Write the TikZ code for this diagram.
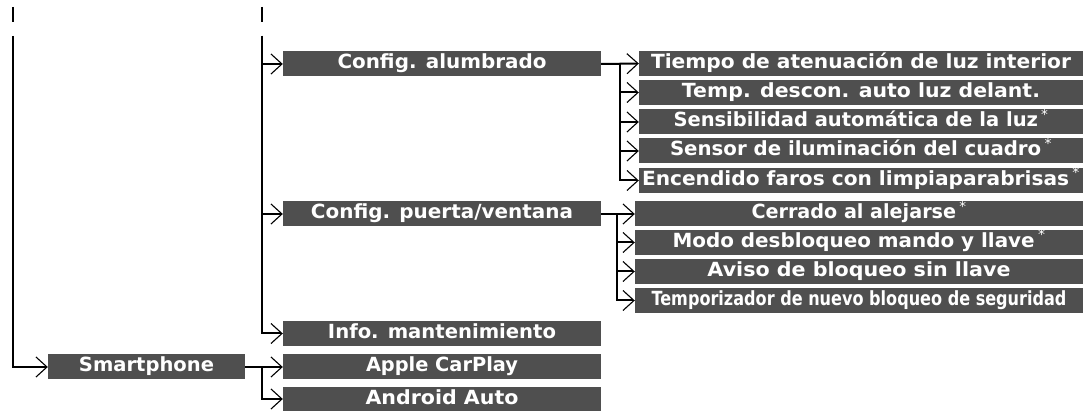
\documentclass[tikz,border=0pt]{standalone}
\usepackage{fontspec}
\setmainfont{DejaVu Sans}
\usetikzlibrary{arrows.meta}
\definecolor{boxgray}{HTML}{4F4F4F}
\tikzset{
  menubox/.style={fill=boxgray, text=white, font=\fontsize{19.5}{19.5}\selectfont\bfseries, inner sep=0pt, minimum height=25pt, text height=15pt, text depth=5pt, anchor=center},
  wide/.style={menubox, minimum width=318pt},
  sub/.style={menubox, minimum width=444pt},
  dsub/.style={menubox, minimum width=448pt},
  conn/.style={line width=2pt, -{Straight Barb[length=11pt,width=20pt,line width=1.1pt]}},
  plain/.style={line width=2pt}
}
\newcommand{\optmark}{\,\textsuperscript{\mdseries *}}
\newcommand{\lbl}[2]{\resizebox{#1pt}{\height}{#2}}
\begin{document}
\begin{tikzpicture}[x=1pt,y=-1pt]
\useasboundingbox (0,0) rectangle (1084,411);
% boxes
\node[wide] (ca) at (442,64) {\lbl{209}{Config. alumbrado}};
\node[sub] (l1) at (861,63.5) {\lbl{420}{Tiempo de atenuación de luz interior}};
\node[sub] (l2) at (861,92.5) {\lbl{358}{Temp. descon. auto luz delant.}};
\node[sub] (l3) at (861,122) {\lbl{375}{Sensibilidad automática de la luz\optmark}};
\node[sub] (l4) at (861,151) {\lbl{382}{Sensor de iluminación del cuadro\optmark}};
\node[sub] (l5) at (861,180.5) {\lbl{438}{Encendido faros con limpiaparabrisas\optmark}};
\node[wide] (cp) at (442,214) {\lbl{262}{Config. puerta/ventana}};
\node[dsub] (d1) at (859,214) {\lbl{215}{Cerrado al alejarse\optmark}};
\node[dsub] (d2) at (859,242.5) {\lbl{373}{Modo desbloqueo mando y llave\optmark}};
\node[dsub] (d3) at (859,271.5) {\lbl{303}{Aviso de bloqueo sin llave}};
\node[dsub] (d4) at (859,300.5) {\lbl{415}{Temporizador de nuevo bloqueo de seguridad}};
\node[wide] (im) at (442,333.5) {\lbl{228}{Info. mantenimiento}};
\node[menubox, minimum width=197pt] (sp) at (146.5,367) {\lbl{135}{Smartphone}};
\node[wide] (ac) at (442,367) {\lbl{152}{Apple CarPlay}};
\node[wide] (aa) at (442,399) {\lbl{153}{Android Auto}};
% coordinates
\coordinate (t1a) at (13,7); \coordinate (t1b) at (13,22);
\coordinate (t2a) at (262,7); \coordinate (t2b) at (262,22);
\coordinate (L0) at (13,36);
\coordinate (M0) at (262,36);
\coordinate (jl) at (620,64);
\coordinate (jd) at (617,214);
\coordinate (js) at (262,367);
% ticks
\draw[plain] (t1a) -- (t1b);
\draw[plain] (t2a) -- (t2b);
% connectors
\draw[conn] (L0) |- (sp.west);
\draw[conn] (M0) |- (ca.west);
\draw[conn] (M0) |- (cp.west);
\draw[conn] (M0) |- (im.west);
\draw[conn] (ca.east) -- (l1.west);
\draw[conn] (jl) |- (l2.west);
\draw[conn] (jl) |- (l3.west);
\draw[conn] (jl) |- (l4.west);
\draw[conn] (jl) |- (l5.west);
\draw[conn] (cp.east) -- (d1.west);
\draw[conn] (jd) |- (d2.west);
\draw[conn] (jd) |- (d3.west);
\draw[conn] (jd) |- (d4.west);
\draw[conn] (sp.east) -- (ac.west);
\draw[conn] (js) |- (aa.west);
\end{tikzpicture}
\end{document}
